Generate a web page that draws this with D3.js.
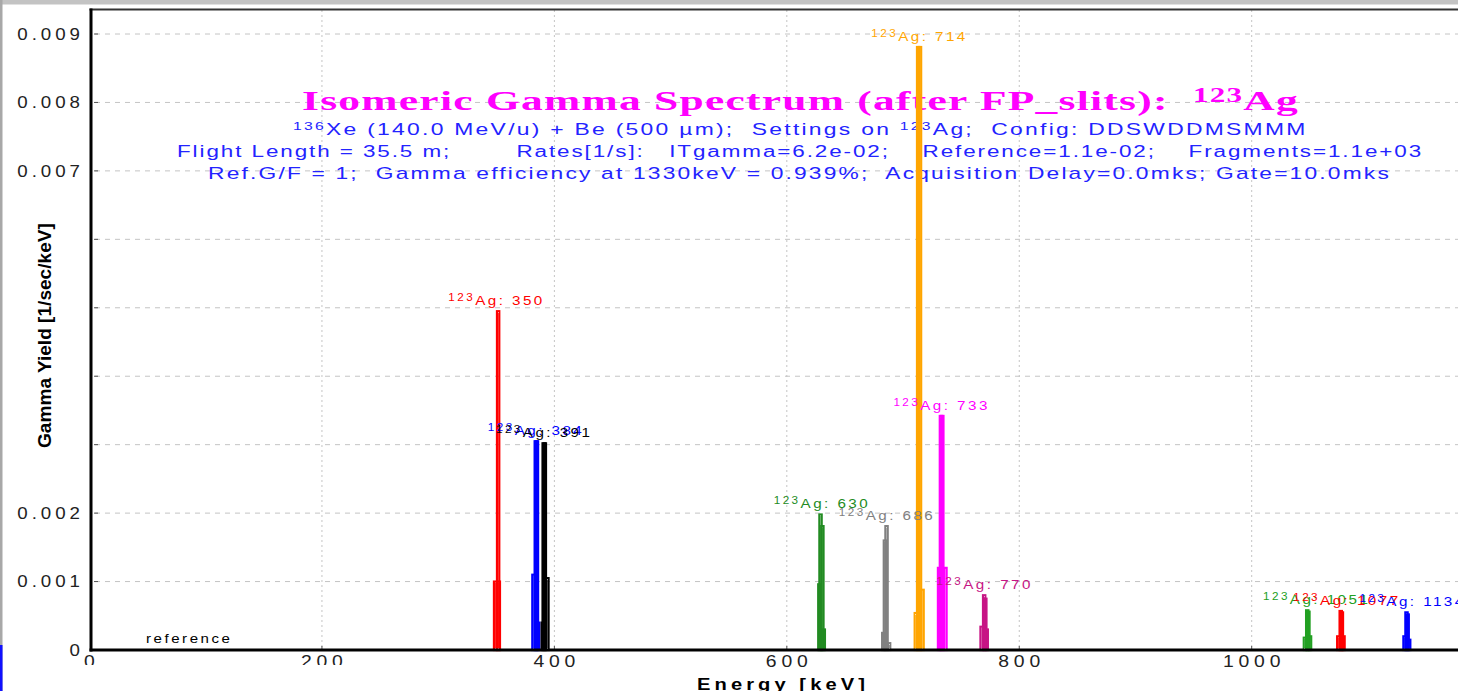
<!DOCTYPE html>
<html><head><meta charset="utf-8">
<script src="https://cdn.jsdelivr.net/npm/d3@7"></script>
<style>html,body{margin:0;padding:0;background:#fff;overflow:hidden}</style>
</head><body>
<svg id="chart" width="1458" height="691"></svg>
<script>
// ---------------- data ----------------
const xTickValues = [0, 200, 400, 600, 800, 1000];
const xTickLabels = ["0", "200", "400", "600", "800", "1000"];
const yTickValues = [0, 0.001, 0.002, 0.003, 0.004, 0.005, 0.006, 0.007, 0.008, 0.009];
const yTickLabels = ["0", "0.001", "0.002", "", "", "", "", "0.007", "0.008", "0.009"];

const nuclideMass = "123";
const nuclideName = "Ag";
const peakEnergies = [350, 384, 391, 630, 686, 714, 733, 770, 1051, 1077, 1134];
const peakColors = ["#ff0000", "#0000ff", "#000000", "#228b22", "#808080", "#ffa500",
                    "#ff00ff", "#c71585", "#22a022", "#ff0000", "#0000ff"];
const binWidth = 2; // keV
// histogram bins per peak: [energy (keV), yield (1/sec/keV)]
const bins350  = [[349, 0.00100], [351.6, 0.00495], [352.2, 0.00100]];
const bins384  = [[382, 0.00110], [384, 0.00305], [385, 0.00305], [386, 0.00040]];
const bins391  = [[390, 0.00040], [390.8, 0.00302], [391.8, 0.00302], [394, 0.00105]];
const bins630  = [[628, 0.00096], [629, 0.00198], [630.6, 0.00181], [631.8, 0.00030]];
const bins686  = [[683, 0.00025], [684.4, 0.00160], [685.8, 0.00181], [688, 0.00010]];
const bins714  = [[711, 0.00054], [713, 0.00881], [714.6, 0.00881], [716.8, 0.00088]];
const bins733  = [[731, 0.00120], [732.6, 0.00342], [733.8, 0.00342], [736.5, 0.00120]];
const bins770  = [[767.6, 0.00034], [769.8, 0.00080], [770.8, 0.00075], [772, 0.00030]];
const bins1051 = [[1045.8, 0.00018], [1047.8, 0.00058], [1048.8, 0.00056], [1050.2, 0.00020]];
const bins1077 = [[1074.5, 0.00020], [1076.6, 0.00057], [1077.6, 0.00055], [1079, 0.00020]];
const bins1134 = [[1131.5, 0.00020], [1133.2, 0.00055], [1134.2, 0.00052], [1135.5, 0.00015]];
const peakBins = [bins350, bins384, bins391, bins630, bins686, bins714, bins733, bins770, bins1051, bins1077, bins1134];

const titleMain = "Isomeric Gamma Spectrum (after FP_slits):  ";
const line1Parts = [["sup", "136"], ["", "Xe (140.0 MeV/u) + Be (500 \u00b5m);  Settings on "], ["sup", "123"], ["", "Ag;  Config: DDSWDDMSMMM"]];
const line2Text = "Flight Length = 35.5 m;        Rates[1/s]:   ITgamma=6.2e-02;    Reference=1.1e-02;    Fragments=1.1e+03";
const line3Text = "Ref.G/F = 1;  Gamma efficiency at 1330keV = 0.939%;  Acquisition Delay=0.0mks; Gate=10.0mks";
const xTitle = "Energy [keV]";
const yTitle = "Gamma Yield [1/sec/keV]";
const cornerNote = "reference";

// ---------------- layout ----------------
const svg = d3.select("#chart");
const W = 1458, H = 691;
const plotLeft = 91, plotTop = 10, plotBottom = 650;
const x = d3.scaleLinear().domain([0, 1000]).range([89.5, 1251.7]);
const y = d3.scaleLinear().domain([0, 0.009]).range([650, 34]);
const SANS = "'Liberation Sans', Arial, sans-serif";
const SERIF = "'Liberation Serif', 'Times New Roman', serif";

function fitText(t, px, py, target, f, rotate) {
  const node = t.node();
  const W0 = node.getComputedTextLength();
  const N = node.getNumberOfChars();
  const s = 1 + (target / W0 - 1) * f;
  const L = (target / s - W0) / (N - 1);
  t.style("letter-spacing", L + "px");
  t.attr("transform", `translate(${px},${py})${rotate ? " rotate(-90)" : ""} scale(${s},1)`);
}

// window frame
svg.append("rect").attr("x", 0).attr("y", 0).attr("width", W).attr("height", 4.5).attr("fill", "#c3c3c3");
svg.append("rect").attr("x", 0).attr("y", 0).attr("width", 2.5).attr("height", H).attr("fill", "#a8a8a8");

// grid
const gridG = svg.append("g");
gridG.selectAll("line.h").data(yTickValues.filter(v => v > 0)).join("line")
  .attr("x1", 95).attr("x2", W).attr("y1", d => y(d)).attr("y2", d => y(d))
  .attr("stroke", "#c4c4c4").attr("stroke-width", 1).attr("stroke-dasharray", "5,5");
gridG.selectAll("line.v").data(xTickValues.filter(v => v > 0)).join("line")
  .attr("x1", d => x(d)).attr("x2", d => x(d)).attr("y1", plotTop).attr("y2", plotBottom)
  .attr("stroke", "#c4c4c4").attr("stroke-width", 1).attr("stroke-dasharray", "2,3");
gridG.selectAll("line.t").data(yTickValues.filter(v => v > 0)).join("line")
  .attr("x1", 94).attr("x2", 98).attr("y1", d => y(d)).attr("y2", d => y(d))
  .attr("stroke", "#555").attr("stroke-width", 1);
gridG.selectAll("line.tx").data(xTickValues.filter(v => v > 0)).join("line")
  .attr("x1", d => x(d)).attr("x2", d => x(d)).attr("y1", 646).attr("y2", 650)
  .attr("stroke", "#555").attr("stroke-width", 1);

// headings
const title = svg.append("text").attr("font-family", SERIF).attr("font-weight", "bold")
  .attr("font-size", 28).attr("fill", "#ff00ff").style("white-space", "pre");
title.append("tspan").text(titleMain);
title.append("tspan").attr("font-size", 20).attr("dy", -8).text(nuclideMass);
title.append("tspan").attr("dy", 8).text(nuclideName);
fitText(title, 302, 110, 996, 0.85);

const blue = "#2323ff";
const l1 = svg.append("text").attr("font-family", SANS).attr("font-size", 16).attr("fill", blue).style("white-space", "pre");
line1Parts.forEach((p, i) => {
  const ts = l1.append("tspan").text(p[1]);
  if (p[0] === "sup") ts.attr("font-size", 11).attr("dy", -5);
  else if (i > 0) ts.attr("dy", 5);
});
fitText(l1, 293, 135, 1013, 0.6);
const l2 = svg.append("text").attr("font-family", SANS).attr("font-size", 16).attr("fill", blue).style("white-space", "pre").text(line2Text);
fitText(l2, 177, 157, 1245, 0.6);
const l3 = svg.append("text").attr("font-family", SANS).attr("font-size", 16).attr("fill", blue).style("white-space", "pre").text(line3Text);
fitText(l3, 208, 179, 1181, 0.6);

// peaks
const peaksG = svg.append("g");
peakBins.forEach((bins, i) => {
  peaksG.append("g").selectAll("rect").data(bins).join("rect")
    .attr("x", d => x(d[0] - binWidth / 2))
    .attr("width", d => x(d[0] + binWidth / 2) - x(d[0] - binWidth / 2))
    .attr("y", d => y(d[1]))
    .attr("height", d => y(0) - y(d[1]))
    .attr("fill", "none").attr("stroke", peakColors[i]).attr("stroke-width", 2.2);
});

// peak labels
const lblS = 1.17, lblL = 2.1;
peakEnergies.forEach((e, i) => {
  const top = d3.max(peakBins[i], d => d[1]);
  const t = svg.append("text").attr("font-family", SANS).attr("font-size", 13)
    .attr("fill", peakColors[i]).style("letter-spacing", lblL + "px").style("white-space", "pre")
    .attr("transform", `translate(${x(e) - 48},${y(top) - 6}) scale(${lblS},1)`);
  t.append("tspan").attr("font-size", 10).attr("dy", -4).text(nuclideMass);
  t.append("tspan").attr("dy", 4).text(nuclideName + ": " + e);
});

// "reference" note
const ref = svg.append("text").attr("font-family", SANS).attr("font-size", 13).attr("fill", "#000").text(cornerNote);
fitText(ref, 146, 643, 84, 0.3);

// axes lines
svg.append("line").attr("x1", 89.5).attr("x2", W).attr("y1", 9.5).attr("y2", 9.5).attr("stroke", "#333").attr("stroke-width", 2);
svg.append("line").attr("x1", plotLeft).attr("x2", plotLeft).attr("y1", 8.5).attr("y2", 651.5).attr("stroke", "#000").attr("stroke-width", 3);
svg.append("line").attr("x1", 89.5).attr("x2", W).attr("y1", plotBottom).attr("y2", plotBottom).attr("stroke", "#000").attr("stroke-width", 3);

// y tick labels
const ySs = 1.17, yL = 3.4;
svg.append("g").selectAll("text").data(yTickValues.map((v, i) => [v, yTickLabels[i]]).filter(d => d[1] !== "")).join("text")
  .attr("font-family", SANS).attr("font-size", 16).attr("fill", "#222").attr("text-anchor", "end")
  .style("letter-spacing", yL + "px")
  .attr("transform", d => `translate(${80 + yL * ySs},${y(d[0]) + 5.7}) scale(${ySs},1)`)
  .text(d => d[1]);

// x tick labels
const xSs = 1.14, xL = 4.2;
svg.append("g").selectAll("text").data(xTickValues.map((v, i) => [v, xTickLabels[i]])).join("text")
  .attr("font-family", SANS).attr("font-size", 17).attr("fill", "#222").attr("text-anchor", "middle")
  .style("letter-spacing", xL + "px")
  .attr("transform", d => `translate(${x(d[0]) + xL * xSs / 2},667) scale(${xSs},1)`)
  .text(d => d[1]);
// occluded strip at lower left (as in the reference)
svg.append("rect").attr("x", 3).attr("y", 665).attr("width", 467).attr("height", 26).attr("fill", "#fff");

// axis titles
const xt = svg.append("text").attr("font-family", SANS).attr("font-weight", "bold").attr("font-size", 17).attr("fill", "#000").text(xTitle);
fitText(xt, 697, 689.5, 168, 0.3);
const yt = svg.append("text").attr("font-family", SANS).attr("font-weight", "bold").attr("font-size", 19).attr("fill", "#000").text(yTitle);
fitText(yt, 51, 448, 225, 1, true);

// left-bottom blue strip
svg.append("rect").attr("x", 0).attr("y", 645).attr("width", 2.5).attr("height", H - 645).attr("fill", "#1010ff");
</script>
</body></html>
